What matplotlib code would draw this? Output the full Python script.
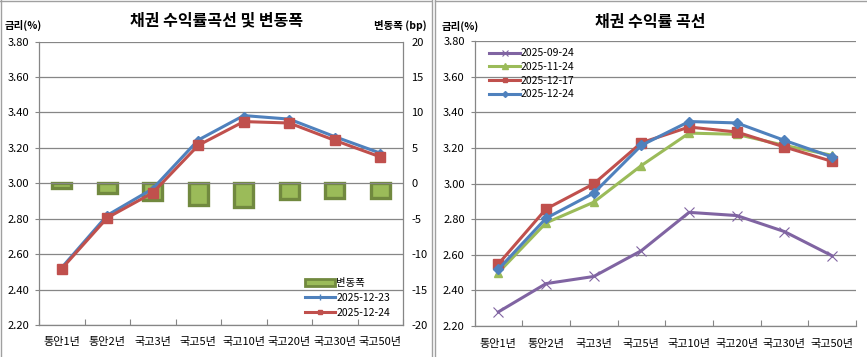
import matplotlib
matplotlib.use("Agg")
import matplotlib.pyplot as plt
from matplotlib.lines import Line2D
from matplotlib.patches import Patch
import numpy as np

plt.rcParams['font.family'] = ['Noto Sans CJK KR', 'DejaVu Sans']

categories = ['통안1년', '통안2년', '국고3년', '국고5년', '국고10년', '국고20년', '국고30년', '국고50년']

# Left chart
y_1223 = [2.524, 2.819, 2.969, 3.244, 3.382, 3.362, 3.263, 3.170]
y_1224 = [2.518, 2.805, 2.946, 3.214, 3.348, 3.340, 3.242, 3.149]
change_bp = [-0.6, -1.4, -2.3, -3.0, -3.4, -2.2, -2.1, -2.1]

# Right chart
y_0924 = [2.279, 2.438, 2.478, 2.623, 2.838, 2.820, 2.730, 2.594]
y_1124 = [2.500, 2.779, 2.895, 3.101, 3.283, 3.276, 3.214, 3.158]
y_1217 = [2.548, 2.857, 2.998, 3.229, 3.317, 3.289, 3.205, 3.124]
y_1224r = y_1224

left_yticks = [2.20, 2.40, 2.60, 2.80, 3.00, 3.20, 3.40, 3.60, 3.80]
right_yticks = [-20, -15, -10, -5, 0, 5, 10, 15, 20]

W, H = 867, 357
fig = plt.figure(figsize=(W / 100, H / 100), dpi=100)

BLUE = '#4F81BD'
RED = '#C0504D'
GREEN = '#9BBB59'
GREEN_EDGE = '#71893F'
PURPLE = '#8064A2'
GRID = '#868686'


def px_axes(x0, x1, ytop, ybot):
    return fig.add_axes([x0 / W, (H - ybot) / H, (x1 - x0) / W, (ybot - ytop) / H])


def style_axes(ax):
    x = np.arange(len(categories))
    ax.set_xlim(-0.5, len(categories) - 0.5)
    ax.set_ylim(2.20, 3.80)
    ax.set_yticks(left_yticks)
    ax.set_yticklabels([f'{v:.2f}' for v in left_yticks], fontsize=8)
    ax.yaxis.grid(True, color=GRID, lw=0.9)
    ax.set_axisbelow(True)
    for s in ax.spines.values():
        s.set_color(GRID)
        s.set_linewidth(0.9)
    ax.spines['top'].set_visible(False)
    ax.set_xticks(np.arange(len(categories) + 1) - 0.5)
    ax.set_xticklabels([])
    ax.set_xticks(x, minor=True)
    ax.set_xticklabels(categories, minor=True, fontsize=8)
    ax.tick_params(axis='x', which='major', direction='in', length=4, color=GRID)
    ax.tick_params(axis='x', which='minor', length=0, pad=9)
    ax.tick_params(axis='y', direction='out', length=3, color=GRID, pad=4)
    return x


# ---------------- Left chart ----------------
axL = px_axes(39, 403, 41.5, 325)
x = style_axes(axL)
axL.spines['right'].set_visible(True)

axR = axL.twinx()
axR.set_ylim(-20, 20)
axR.set_yticks(right_yticks)
axR.set_yticklabels([str(v) for v in right_yticks], fontsize=8)
axR.tick_params(axis='y', length=0, pad=6)
for s in axR.spines.values():
    s.set_visible(False)
axR.bar(x, change_bp, width=0.42, color=GREEN, edgecolor=GREEN_EDGE, linewidth=2.4, zorder=1)
axR.set_zorder(1)
axL.set_zorder(2)
axL.patch.set_visible(False)

axL.plot(x, y_1223, color=BLUE, lw=2.2, marker='D', ms=4, zorder=3)
axL.plot(x, y_1224, color=RED, lw=2.2, marker='s', ms=7, zorder=4)

handles = [Patch(facecolor=GREEN, edgecolor=GREEN_EDGE, linewidth=2),
           Line2D([], [], color=BLUE, lw=2.2, marker='+', ms=4),
           Line2D([], [], color=RED, lw=2.2, marker='s', ms=3)]
axL.legend(handles, ['변동폭', '2025-12-23', '2025-12-24'], loc='lower right',
           bbox_to_anchor=(0.985, 0.0), frameon=False, fontsize=7.5,
           handlelength=2.9, handletextpad=0.1, labelspacing=0.45, borderaxespad=0.3)

fig.text(217 / W, 1 - 20 / H, '채권 수익률곡선 및 변동폭', ha='center', va='center',
         fontsize=11.5, fontweight='bold')
fig.text(5 / W, 1 - 25 / H, '금리(%)', ha='left', va='center', fontsize=7.5, fontweight='bold')
fig.text(427 / W, 1 - 25 / H, '변동폭 (bp)', ha='right', va='center', fontsize=7.5, fontweight='bold')

# ---------------- Right chart ----------------
ax2 = px_axes(474.5, 856, 41, 326)
x2 = style_axes(ax2)
ax2.spines['right'].set_visible(False)
ax2.plot(x2, y_0924, color=PURPLE, lw=2.2, marker='x', ms=7, mew=0.8, label='2025-09-24', zorder=3)
ax2.plot(x2, y_1124, color=GREEN, lw=2.2, marker='^', ms=6, label='2025-11-24', zorder=4)
ax2.plot(x2, y_1217, color=RED, lw=2.2, marker='s', ms=7, label='2025-12-17', zorder=5)
ax2.plot(x2, y_1224r, color=BLUE, lw=2.2, marker='D', ms=5, label='2025-12-24', zorder=6)
h2 = [Line2D([], [], color=PURPLE, lw=2.2, marker='x', ms=4, mew=0.8),
      Line2D([], [], color=GREEN, lw=2.2, marker='^', ms=4),
      Line2D([], [], color=RED, lw=2.2, marker='s', ms=3),
      Line2D([], [], color=BLUE, lw=2.2, marker='D', ms=3)]
ax2.legend(h2, ['2025-09-24', '2025-11-24', '2025-12-17', '2025-12-24'], loc='upper left',
           bbox_to_anchor=(0.02, 1.0), frameon=False, fontsize=7.5,
           handlelength=2.9, handletextpad=0.1, labelspacing=0.35, borderaxespad=0.3)
fig.text(650 / W, 1 - 22 / H, '채권 수익률 곡선', ha='center', va='center',
         fontsize=11.5, fontweight='bold')
fig.text(442 / W, 1 - 26 / H, '금리(%)', ha='left', va='center', fontsize=7.5, fontweight='bold')

# panel borders
fig.add_artist(Line2D([0, 431 / W], [1 - 0.5 / H, 1 - 0.5 / H], color='#A0A0A0', lw=1, transform=fig.transFigure))
fig.add_artist(Line2D([435 / W, 1], [1 - 0.5 / H, 1 - 0.5 / H], color='#A0A0A0', lw=1, transform=fig.transFigure))
fig.add_artist(Line2D([431.5 / W, 431.5 / W], [0, 1], color='#A0A0A0', lw=1, transform=fig.transFigure))
fig.add_artist(Line2D([434.5 / W, 434.5 / W], [0, 1], color='#A0A0A0', lw=1, transform=fig.transFigure))
fig.add_artist(Line2D([0.5 / W, 0.5 / W], [0, 1], color='#A0A0A0', lw=1, transform=fig.transFigure))

fig.savefig('out.png', dpi=100)
